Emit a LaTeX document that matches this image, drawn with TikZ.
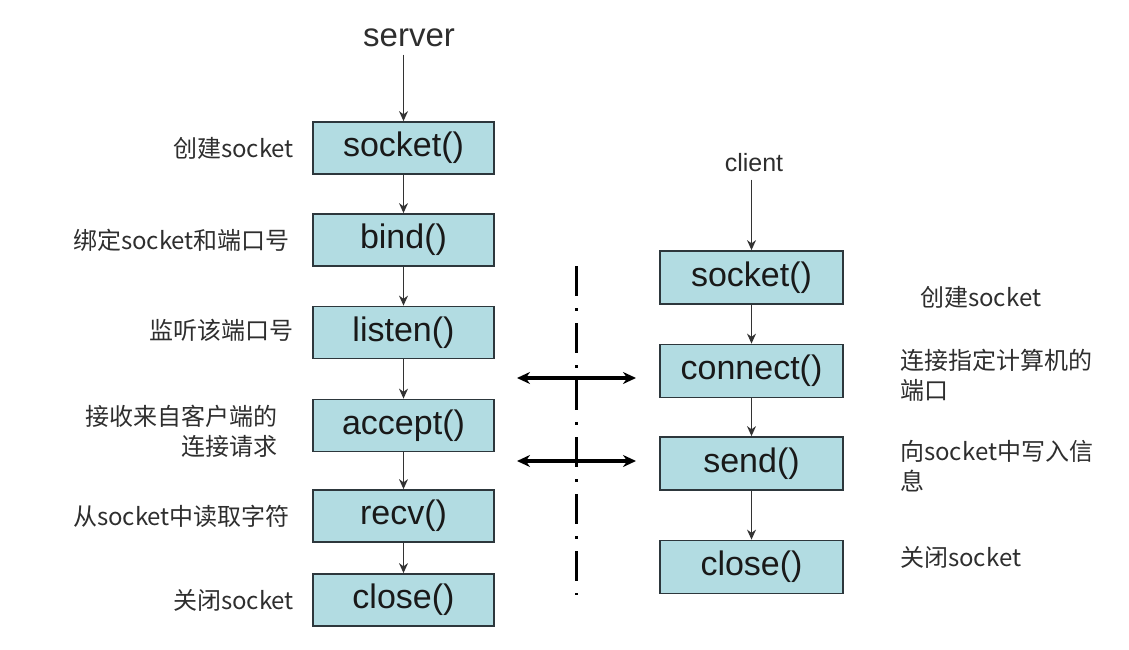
\documentclass[tikz,border=0pt]{standalone}
\usepackage{fontspec}
\setmainfont{Liberation Sans}
\newfontfamily\cjk{Noto Sans CJK SC}
\usetikzlibrary{arrows.meta,positioning}
\definecolor{boxfill}{RGB}{178,220,226}
\definecolor{boxline}{RGB}{45,55,60}
\tikzset{
	func/.style={draw=boxline, line width=1.8pt, fill=boxfill, minimum width=181pt, minimum height=52pt, inner sep=0pt, text=black!90, font=\fontsize{34}{36}\selectfont},
	note/.style={text=black!82, font=\cjk\fontsize{24}{30}\selectfont, inner sep=0pt},
	flow/.style={draw=black!80, line width=1.1pt, -{Stealth[length=10pt,width=9pt]}},
	talk/.style={line width=3.2pt, {Stealth[length=13pt,width=12pt]}-{Stealth[length=13pt,width=12pt]}}
}
\begin{document}
\begin{tikzpicture}[x=1pt,y=-1pt]
			%%%%% FRAME %%%%%
			\useasboundingbox (0,0) rectangle (1129,650);
			
			%%%%% SERVER %%%%%
			\node[font=\fontsize{33}{36}\selectfont, text=black!82] (server) at (409,38) {server};
			\node[func] (ssocket) at (403.5,148) {socket()};
			\node[func] (sbind) at (403.5,240) {bind()};
			\node[func] (slisten) at (403.5,332.5) {listen()};
			\node[func] (saccept) at (403.5,425.5) {accept()};
			\node[func] (srecv) at (403.5,516) {recv()};
			\node[func] (sclose) at (403.5,600) {close()};
			
			\draw[flow] (server.south -| ssocket.north) ++(0,4) -- (ssocket.north);
			\draw[flow] (ssocket) -- (sbind);
			\draw[flow] (sbind) -- (slisten);
			\draw[flow] (slisten) -- (saccept);
			\draw[flow] (saccept) -- (srecv);
			\draw[flow] (srecv) -- (sclose);
			
			\node[note, left=18pt of ssocket] (nsocket) {创建socket};
			\node[note, left=22pt of sbind] (nbind) {绑定socket和端口号};
			\node[note, left=18pt of slisten, yshift=2pt] (nlisten) {监听该端口号};
			\node[note, left=34pt of saccept, yshift=-6pt, align=right] (naccept) {接收来自客户端的\\连接请求};
			\node[note, left=22pt of srecv] (nrecv) {从socket中读取字符};
			\node[note, left=18pt of sclose] (nclose) {关闭socket};
			
			%%%%% CLIENT %%%%%
			\node[font=\fontsize{25}{28}\selectfont, text=black!82] (client) at (754,163) {client};
			\node[func, minimum width=183pt, minimum height=53pt] (csocket) at (751.5,277.5) {socket()};
			\node[func, minimum width=183pt, minimum height=53pt] (cconnect) at (751.5,371) {connect()};
			\node[func, minimum width=183pt, minimum height=53pt] (csend) at (751.5,463.5) {send()};
			\node[func, minimum width=183pt, minimum height=53pt] (cclose) at (751.5,567) {close()};
			
			\draw[flow] (client.south -| csocket.north) ++(0,4) -- (csocket.north);
			\draw[flow] (csocket) -- (cconnect);
			\draw[flow] (cconnect) -- (csend);
			\draw[flow] (csend) -- (cclose);
			
			\node[note, anchor=west] (ncsocket) at (920,297) {创建socket};
			\node[note, anchor=north west, align=left] (ncconnect) at (900,349) {连接指定计算机的\\端口};
			\node[note, anchor=north west, align=left] (ncsend) at (900,440) {向socket中写入信\\息};
			\node[note, anchor=west] (ncclose) at (900,557) {关闭socket};
			
			%%%%% DIVIDER %%%%%
			\coordinate (topdiv) at (576,266);
			\coordinate (botdiv) at (576,595);
			\draw[line width=3pt, dash pattern=on 30pt off 12pt on 3pt off 12pt] (topdiv) -- (botdiv);
			
			\coordinate (conL) at (517,378);
			\coordinate (conR) at (636,378);
			\coordinate (sendL) at (517,461);
			\coordinate (sendR) at (636,461);
			\draw[talk] (conL) -- (conR);
			\draw[talk] (sendL) -- (sendR);
			
			%%%%% END %%%%%
		\end{tikzpicture}
\end{document}
